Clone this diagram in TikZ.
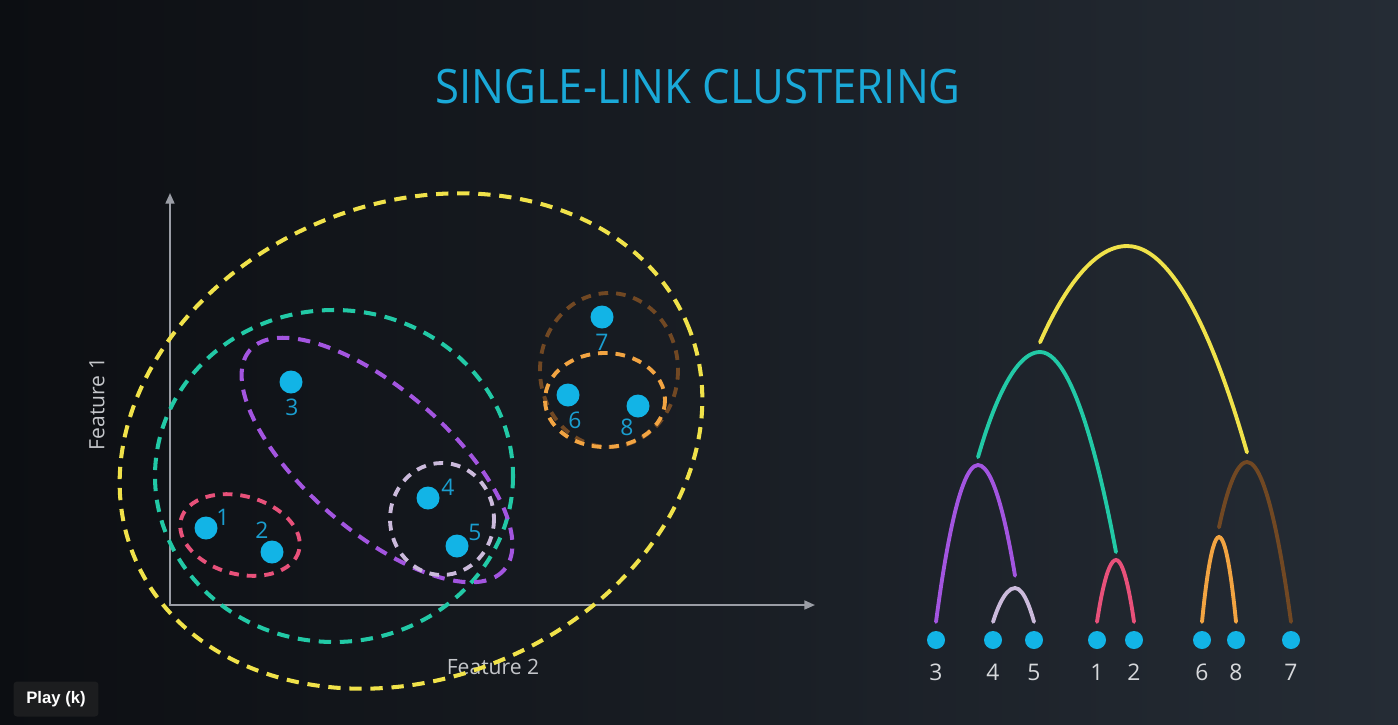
\documentclass[tikz,border=0pt]{standalone}
\usepackage{fontspec}
\setmainfont{Open Sans}
\setsansfont{Open Sans}
\newfontfamily\playfont{Liberation Sans}
\usetikzlibrary{arrows.meta}
\definecolor{bgleft}{HTML}{0C0E12}
\definecolor{bgright}{HTML}{252C35}
\definecolor{dotblue}{HTML}{12B4E6}
\definecolor{numblue}{HTML}{1A9ED0}
\definecolor{titleblue}{HTML}{1AA9D8}
\definecolor{axisgray}{HTML}{9A9DA5}
\definecolor{featgray}{HTML}{C4C6CA}
\definecolor{leafgray}{HTML}{D6D8DB}
\definecolor{cyellow}{HTML}{F0E24A}
\definecolor{cteal}{HTML}{22C9A6}
\definecolor{cpurple}{HTML}{A355E0}
\definecolor{clilac}{HTML}{CBBADB}
\definecolor{cred}{HTML}{E8517A}
\definecolor{corange}{HTML}{F2A442}
\definecolor{cbrown}{HTML}{714823}
\definecolor{playbg}{HTML}{1C1D1F}

\begin{document}
\begin{tikzpicture}[
  x=0.02cm, y=-0.02cm,
  dot/.style={circle,fill=dotblue,inner sep=0pt,minimum size=4.6mm},
  leaf/.style={circle,fill=dotblue,inner sep=0pt,minimum size=3.6mm},
  num/.style={text=numblue,inner sep=0pt,font=\fontsize{13}{13}\selectfont},
  leafnum/.style={text=leafgray,inner sep=0pt,font=\fontsize{13}{13}\selectfont},
  feat/.style={text=featgray,inner sep=0pt,font=\fontsize{12}{12}\selectfont},
  ring/.style={line width=2.3pt,dash pattern=on 7pt off 5pt},
  smallring/.style={line width=2.2pt,dash pattern=on 5.5pt off 4.5pt},
  arch/.style={line width=2.2pt,line cap=round},
  axis/.style={draw=axisgray,line width=1.1pt,
               {Triangle[length=6pt,width=5pt]}-{Triangle[length=6pt,width=5pt]}}
]
\shade[left color=bgleft,right color=bgright] (0,0) rectangle (1398,724);
\useasboundingbox (0,0) rectangle (1398,724);

\node[text=titleblue,font=\fontsize{27}{27}\selectfont,xscale=0.92]
  (title) at (698,87) {SINGLE-LINK CLUSTERING};

% scatter plot
\coordinate (origin) at (170,605);
\coordinate (ytip) at (170,193);
\coordinate (xtip) at (815,605);
\draw[axis] (ytip) -- (origin) -- (xtip);
\node[feat,rotate=90] (feat1) at (97,404) {Feature 1};
\node[feat] (feat2) at (493,667) {Feature 2};

% clusters
\draw[ring,cyellow,rotate around={23:(411,441)}] (411,441) ellipse (300 and 237);
\draw[ring,cteal] (334,476) ellipse (179 and 166);
\draw[ring,cpurple,rotate around={-40.8:(377,460)}] (377,460) ellipse (168 and 71);
\draw[smallring,clilac] (442,519) ellipse (52 and 56);
\draw[smallring,cred,rotate around={-15:(240,535)}] (240,535) ellipse (61 and 39);
\draw[smallring,cbrown] (609,370) ellipse (69 and 77);
\draw[smallring,corange] (605,400) ellipse (60 and 47);

% points
\node[dot] (p1) at (206,528) {};
\node[dot] (p2) at (272,552) {};
\node[dot] (p3) at (291,382) {};
\node[dot] (p4) at (428,498) {};
\node[dot] (p5) at (457,546) {};
\node[dot] (p6) at (568,395) {};
\node[dot] (p7) at (602,317) {};
\node[dot] (p8) at (638,406) {};
\node[num] (n1) at (223,517) {1};
\node[num] (n2) at (262,530) {2};
\node[num] (n3) at (292,407) {3};
\node[num] (n4) at (448,487) {4};
\node[num] (n5) at (475,532) {5};
\node[num] (n6) at (575,420) {6};
\node[num] (n7) at (602,342) {7};
\node[num] (n8) at (627,427) {8};

% dendrogram leaves
\node[leaf] (l3) at (936,640) {};
\node[leaf] (l4) at (993,640) {};
\node[leaf] (l5) at (1034,640) {};
\node[leaf] (l1) at (1097,640) {};
\node[leaf] (l2) at (1134,640) {};
\node[leaf] (l6) at (1202,640) {};
\node[leaf] (l8) at (1236,640) {};
\node[leaf] (l7) at (1291,640) {};
\foreach \k in {3,4,5,1,2,6,8,7}
  \node[leafnum] (m\k) at ([yshift=-18.5pt]l\k.center) {\k};

% merge heights
\coordinate (b45) at (1015,588);
\coordinate (b12) at (1116,560);
\coordinate (b68) at (1219,537);
\coordinate (b345) at (978,465);
\coordinate (b678) at (1247,462);
\coordinate (b12345) at (1040,352);
\coordinate (ball) at (1127,246);

\draw[arch,clilac] ([yshift=5pt]l4.north) parabola bend (b45) ([yshift=5pt]l5.north);
\draw[arch,cred] ([yshift=5pt]l1.north) parabola bend (b12) ([yshift=5pt]l2.north);
\draw[arch,corange] ([yshift=5pt]l6.north) parabola bend (b68) ([yshift=5pt]l8.north);
\draw[arch,cpurple] ([yshift=5pt]l3.north) parabola bend (b345) ([yshift=7pt]b45);
\draw[arch,cbrown] ([yshift=5.5pt]b68) parabola bend (b678) ([yshift=5pt]l7.north);
\draw[arch,cteal] ([yshift=4.5pt]b345) parabola bend (b12345) ([yshift=4.5pt]b12);
\draw[arch,cyellow] ([yshift=5.5pt]b12345) parabola bend (ball) ([yshift=5.5pt]b678);

% player overlay
\node[fill=playbg,rounded corners=2pt,minimum width=1.7cm,minimum height=0.7cm,
  text=white,font=\playfont\bfseries\fontsize{9.5}{9.5}\selectfont]
  (play) at (56,699) {Play (k)};
\end{tikzpicture}
\end{document}
